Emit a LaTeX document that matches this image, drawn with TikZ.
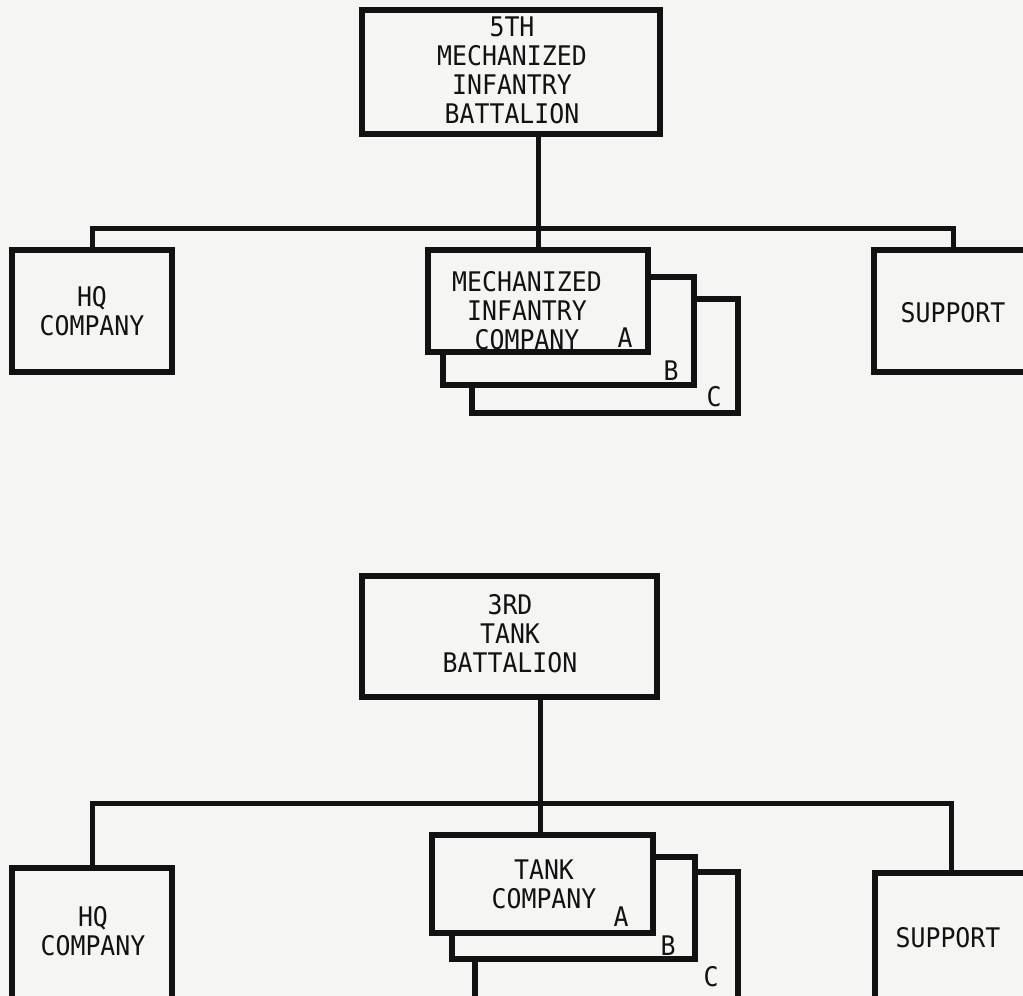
\documentclass[tikz,border=0pt]{standalone}
\usepackage{fontspec}
\newfontfamily\tfont[FakeStretch=0.92]{DejaVu Sans Mono}
\definecolor{paper}{RGB}{245,245,243}
\definecolor{ink}{RGB}{18,18,18}
\begin{document}
\begin{tikzpicture}[x=1pt,y=-1pt,
  box/.style={draw=ink, line width=5.5pt, fill=paper, rectangle, inner sep=0pt},
  txt/.style={font=\tfont\fontsize{27}{29}\selectfont, align=center, text=ink, inner sep=0pt},
  conn/.style={draw=ink, line width=5pt}]
\useasboundingbox (0,0) rectangle (1023,996);
\clip (0,0) rectangle (1023,996);
\fill[paper] (0,0) rectangle (1023,996);

% ---------- upper chart ----------
\node[box, minimum width=298, minimum height=124] (bat1) at (511,72) {};
\node[box, minimum width=160, minimum height=122] (hq1) at (92,311) {};
\node[box, minimum width=158, minimum height=122] (sup1) at (953,311) {};
\node[box, minimum width=266, minimum height=114] (mc) at (605,356) {};
\node[box, minimum width=251, minimum height=108] (mb) at (568.5,331) {};
\node[box, minimum width=220, minimum height=102] (ma) at (538,301) {};

\coordinate (j1) at (538,228);
\draw[conn] (hq1.north) |- (j1) -| (sup1.north);
\draw[conn] (bat1.south -| j1) -- (ma.north);

\node[txt] (tbat1) at (512,70) {5TH\\MECHANIZED\\INFANTRY\\BATTALION};
\node[txt] (thq1) at (92,311) {HQ\\COMPANY};
\node[txt] (tsup1) at (953,313) {SUPPORT};
\node[txt] (tma) at (527,311) {MECHANIZED\\INFANTRY\\COMPANY};
\node[txt] (la1) at (625,338) {A};
\node[txt] (lb1) at (671,371) {B};
\node[txt] (lc1) at (714,397) {C};

% ---------- lower chart ----------
\node[box, minimum width=295, minimum height=121] (bat2) at (509.5,636.5) {};
\node[box, minimum width=160, minimum height=142] (hq2) at (92,939) {};
\node[box, minimum width=152, minimum height=137] (sup2) at (951,941.5) {};
\node[box, minimum width=263, minimum height=138] (tc) at (606.5,941) {};
\node[box, minimum width=243, minimum height=102] (tb) at (573.5,908) {};
\node[box, minimum width=221, minimum height=98] (ta) at (542.5,884) {};

\coordinate (j2) at (540,803);
\draw[conn] (hq2.north) |- (j2) -| (sup2.north);
\draw[conn] (bat2.south -| j2) -- (ta.north -| j2);

\node[txt] (tbat2) at (510,634) {3RD\\TANK\\BATTALION};
\node[txt] (thq2) at (93,931) {HQ\\COMPANY};
\node[txt] (tsup2) at (948,938) {SUPPORT};
\node[txt] (tta) at (544,884) {TANK\\COMPANY};
\node[txt] (la2) at (621,917) {A};
\node[txt] (lb2) at (668,946) {B};
\node[txt] (lc2) at (711,977) {C};
\end{tikzpicture}
\end{document}
